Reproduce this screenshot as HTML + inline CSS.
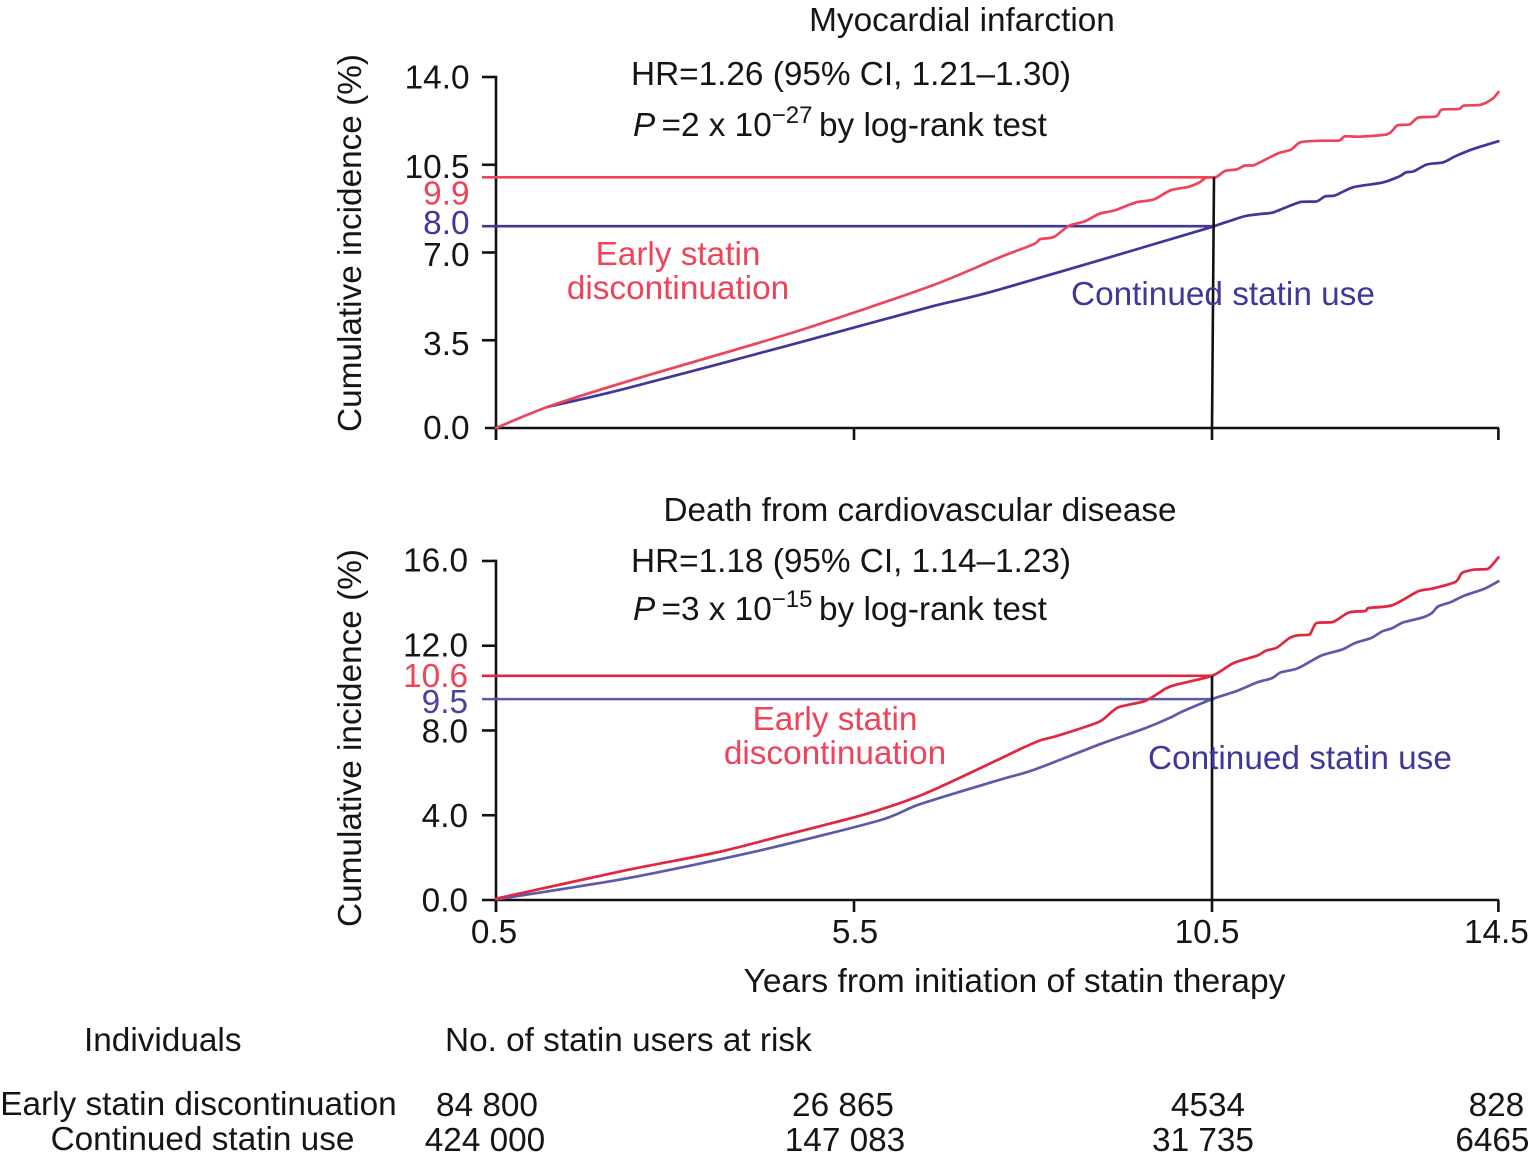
<!DOCTYPE html>
<html lang="en">
<head>
<meta charset="utf-8">
<title>Cumulative incidence after statin discontinuation</title>
<style>
html,body{margin:0;padding:0;background:#fff;width:1534px;height:1159px;overflow:hidden}
svg{display:block}
text{font-family:"Liberation Sans",Arial,sans-serif;font-size:33.35px;fill:#151515}
.r{fill:#ee4358}.b{fill:#3f379a}
</style>
</head>
<body>
<svg id="chart" xmlns="http://www.w3.org/2000/svg" width="1534" height="1159" viewBox="0 0 1534 1159">
  <rect width="1534" height="1159" fill="#fff"/>
  <g id="marks"></g>

  <text x="962" y="31" text-anchor="middle">Myocardial infarction</text>
  <text x="631" y="85">HR=1.26 (95% CI, 1.21–1.30)</text>
  <text x="633" y="136"><tspan font-style="italic">P</tspan><tspan dx="-3"> =2 x 10</tspan><tspan dy="-13" font-size="24">−27</tspan><tspan dy="13" x="819">by log-rank test</tspan></text>
  <text transform="translate(361,243) rotate(-90)" text-anchor="middle">Cumulative incidence (%)</text>
  <text class="r" x="678" y="265" text-anchor="middle">Early statin</text>
  <text class="r" x="678" y="299" text-anchor="middle">discontinuation</text>
  <text class="b" x="1071" y="305">Continued statin use</text>

  <text x="920" y="521" text-anchor="middle">Death from cardiovascular disease</text>
  <text x="631" y="572">HR=1.18 (95% CI, 1.14–1.23)</text>
  <text x="633" y="620"><tspan font-style="italic">P</tspan><tspan dx="-3"> =3 x 10</tspan><tspan dy="-13" font-size="24">−15</tspan><tspan dy="13" x="819">by log-rank test</tspan></text>
  <text transform="translate(361,738) rotate(-90)" text-anchor="middle">Cumulative incidence (%)</text>
  <text class="r" x="835" y="730" text-anchor="middle">Early statin</text>
  <text class="r" x="835" y="764" text-anchor="middle">discontinuation</text>
  <text class="b" x="1148" y="769">Continued statin use</text>

  <text x="1014.5" y="992" text-anchor="middle" style="font-size:33.6px">Years from initiation of statin therapy</text>
  <text x="84" y="1051">Individuals</text>
  <text x="445" y="1051">No. of statin users at risk</text>
  <text x="198.5" y="1115" text-anchor="middle">Early statin discontinuation</text>
  <text x="202.5" y="1150" text-anchor="middle">Continued statin use</text>
</svg>

<script>
// Shared x axis
const xTicks = [0.5, 5.5, 10.5, 14.5];
const xTickLabels = ['0.5', '5.5', '10.5', '14.5'];

// Myocardial infarction panel
const miYTicks = [0, 3.5, 7, 10.5, 14];
const miYTickLabels = ['0.0', '3.5', '7.0', '10.5', '14.0'];
const miRefValues = [10.0, 8.05];
const miRefLabels = ['9.9', '8.0'];
const miEarlyYears = [0.5,1.22,2.31,4.67,6.56,7.53,8.01,8.10,8.29,8.50,8.72,8.93,9.14,9.43,9.69,9.92,10.16,10.32,10.42,10.56,10.68,10.85,10.96,11.08,11.41,11.60,11.74,12.03,12.27,12.36,12.55,12.95,13.09,13.26,13.38,13.63,13.71,13.95,14.02,14.25,14.42,14.50];
const miEarlyValues = [0,0.84,1.84,3.83,5.65,6.80,7.33,7.53,7.62,8.06,8.24,8.55,8.68,8.99,9.12,9.48,9.61,9.79,9.99,10.01,10.25,10.32,10.47,10.47,10.94,11.10,11.40,11.46,11.46,11.64,11.62,11.72,12.07,12.11,12.38,12.43,12.70,12.73,12.86,12.89,13.14,13.40];
const miContinuedYears = [1.22,2.31,4.67,6.56,7.53,10.5,10.75,10.99,11.32,11.41,11.74,11.96,12.08,12.22,12.48,12.88,13.12,13.21,13.31,13.5,13.73,13.9,14.16,14.5];
const miContinuedValues = [0.84,1.57,3.36,4.83,5.52,8.02,8.26,8.47,8.58,8.66,9.02,9.04,9.24,9.28,9.61,9.79,10.04,10.2,10.23,10.51,10.6,10.84,11.14,11.44];

// Cardiovascular death panel
const cvdYTicks = [0, 4, 8, 12, 16];
const cvdYTickLabels = ['0.0', '4.0', '8.0', '12.0', '16.0'];
const cvdRefValues = [10.58, 9.48];
const cvdRefLabels = ['10.6', '9.5'];
const cvdEarlyYears = [0.5,2.31,3.58,4.53,5.66,6.49,7.53,7.82,8.10,8.34,8.88,9.0,9.19,9.57,9.85,10.0,10.5,10.8,11.13,11.25,11.41,11.58,11.70,11.86,11.96,12.19,12.41,12.64,12.69,13.02,13.38,13.57,13.9,13.99,14.16,14.35,14.5];
const cvdEarlyValues = [0.06,1.40,2.24,3.06,4.05,5.02,6.65,7.12,7.53,7.75,8.35,8.58,9.09,9.40,9.97,10.16,10.58,11.18,11.53,11.76,11.92,12.36,12.49,12.52,13.07,13.12,13.57,13.64,13.78,13.91,14.57,14.69,15.01,15.43,15.59,15.62,16.17];
const cvdContinuedYears = [0.5,2.31,4.15,5.85,6.42,7.53,8.01,8.95,9.57,9.9,10.09,10.5,10.85,11.13,11.34,11.46,11.7,12.03,12.31,12.5,12.72,12.88,13.02,13.17,13.45,13.57,13.66,13.83,14.02,14.3,14.5];
const cvdContinuedValues = [0.03,1.01,2.31,3.75,4.52,5.67,6.14,7.37,8.11,8.58,8.9,9.48,9.87,10.27,10.47,10.74,10.94,11.54,11.81,12.13,12.36,12.68,12.83,13.1,13.34,13.54,13.86,14.05,14.36,14.68,15.04];

// Numbers at risk
const riskEarly = ['84 800', '26 865', '4534', '828'];
const riskContinued = ['424 000', '147 083', '31 735', '6465'];

const SVGNS = 'http://www.w3.org/2000/svg';
const marks = document.getElementById('marks');
const INK = '#111';
const xScale = function (year) { return 496 + (year - 0.5) * 71.6; };
const miY = function (v) { return 428 - v * 25.07; };
const cvdY = function (v) { return 900 - v * 21.19; };

function make(tag, attrs, text) {
  const el = document.createElementNS(SVGNS, tag);
  Object.keys(attrs).forEach(function (k) { el.setAttribute(k, attrs[k]); });
  if (text !== undefined) el.textContent = text;
  marks.appendChild(el);
  return el;
}

function drawLine(x1, y1, x2, y2, color, width, name) {
  const el = make('line', { x1: x1, y1: y1, x2: x2, y2: y2, stroke: color, 'stroke-width': width });
  
  
}

function drawSeries(years, values, yScale, color, name) {
  const p = years.map(function (year, i) { return [xScale(year), yScale(values[i])]; });
  let d = 'M' + p[0][0].toFixed(1) + ' ' + p[0][1].toFixed(1);
  for (let i = 0; i < p.length - 1; i++) {
    const a = p[Math.max(i - 1, 0)], b = p[i], c = p[i + 1], e = p[Math.min(i + 2, p.length - 1)];
    const c1x = b[0] + (c[0] - a[0]) / 6 * 0.8, c1y = b[1] + (c[1] - a[1]) / 6 * 0.8;
    const c2x = c[0] - (e[0] - b[0]) / 6 * 0.8, c2y = c[1] - (e[1] - b[1]) / 6 * 0.8;
    const limit = function (v, u, w) { return Math.min(Math.max(v, Math.min(u, w)), Math.max(u, w)); };
    d += ' C' + limit(c1x, b[0], c[0]).toFixed(1) + ' ' + limit(c1y, b[1], c[1]).toFixed(1) + ' ' +
         limit(c2x, b[0], c[0]).toFixed(1) + ' ' + limit(c2y, b[1], c[1]).toFixed(1) + ' ' +
         c[0].toFixed(1) + ' ' + c[1].toFixed(1);
  }
  const el = make('path', { d: d, fill: 'none', stroke: color, 'stroke-width': 2.7, 'stroke-linejoin': 'round', 'stroke-linecap': 'round' });
  
  
}

function drawLabel(x, y, anchor, color, content, name) {
  const el = make('text', { x: x, y: y, 'text-anchor': anchor, style: 'fill:' + color }, content);
  
  
}

function drawAxes(prefix, yScale, yTicks, yLabels, labelRight, labelNudge, baseStart, maxY) {
  const base = yScale(0);
  drawLine(496, yScale(maxY) - 1.3, 496, base + 12, INK, 2.6, prefix + '-y-axis');
  drawLine(baseStart, base, 1499, base, INK, 2.6, prefix + '-x-axis');
  yTicks.forEach(function (tick, i) {
    if (tick !== 0) drawLine(482, yScale(tick), 496, yScale(tick), INK, 2.6, prefix + '-y-tick');
    drawLabel(labelRight, yScale(tick) + 12 + labelNudge[i], 'end', '#151515', yLabels[i], prefix + '-y-tick-label');
  });
  xTicks.forEach(function (tick) {
    drawLine(xScale(tick), base, xScale(tick), base + 12, INK, 2.6, prefix + '-x-tick');
  });
}

function drawRefs(prefix, yScale, refValues, refLabels, labelRight, labelYs, colors, inks) {
  refValues.forEach(function (value, i) {
    drawLine(482, yScale(value), xScale(10.5) + 2, yScale(value), colors[i], 2.6, prefix + '-reference-line');
    drawLabel(labelRight, labelYs[i], 'end', inks[i], refLabels[i], prefix + '-reference-label');
  });
}

// Panel 1
drawAxes('mi', miY, miYTicks, miYTickLabels, 469.5, [-1, 2.7, 1.5, 1, -0.5], 485, 14);
drawRefs('mi', miY, miRefValues, miRefLabels, 469.5, [204.5, 234], ['#ee4358', '#3f379a'], ['#ee4358', '#3f379a']);
drawSeries(miContinuedYears, miContinuedValues, miY, '#3f379a', 'mi-continued-line');
drawSeries(miEarlyYears, miEarlyValues, miY, '#ee4358', 'mi-early-line');
drawLine(xScale(10.5) + 2, miY(miRefValues[0]), xScale(10.5), miY(0), INK, 2.6, 'mi-landmark-line');

// Panel 2
drawAxes('cvd', cvdY, cvdYTicks, cvdYTickLabels, 468, [-0.5, 0, 0, -1, -1.5], 482, 16);
drawRefs('cvd', cvdY, cvdRefValues, cvdRefLabels, 468, [687, 713], ['#e2263f', '#5b5ba8'], ['#ee4358', '#4a429f']);
drawSeries(cvdContinuedYears, cvdContinuedValues, cvdY, '#5b5ba8', 'cvd-continued-line');
drawSeries(cvdEarlyYears, cvdEarlyValues, cvdY, '#e2263f', 'cvd-early-line');
drawLine(xScale(10.5), cvdY(cvdRefValues[0]), xScale(10.5), cvdY(0), INK, 2.6, 'cvd-landmark-line');

// Shared x tick labels and risk table
const xLabelNudge = [-2, 1, -5, -2];
const earlyNudge = [-9, -11, -4, -2];
const continuedNudge = [-11, -9, -9, -6];
xTicks.forEach(function (tick, i) {
  drawLabel(xScale(tick) + xLabelNudge[i], 943, 'middle', '#151515', xTickLabels[i], 'x-tick-label');
  drawLabel(xScale(tick) + earlyNudge[i], 1116, 'middle', '#151515', riskEarly[i], 'risk-early-value');
  drawLabel(xScale(tick) + continuedNudge[i], 1151, 'middle', '#151515', riskContinued[i], 'risk-continued-value');
});
</script>
</body>
</html>
